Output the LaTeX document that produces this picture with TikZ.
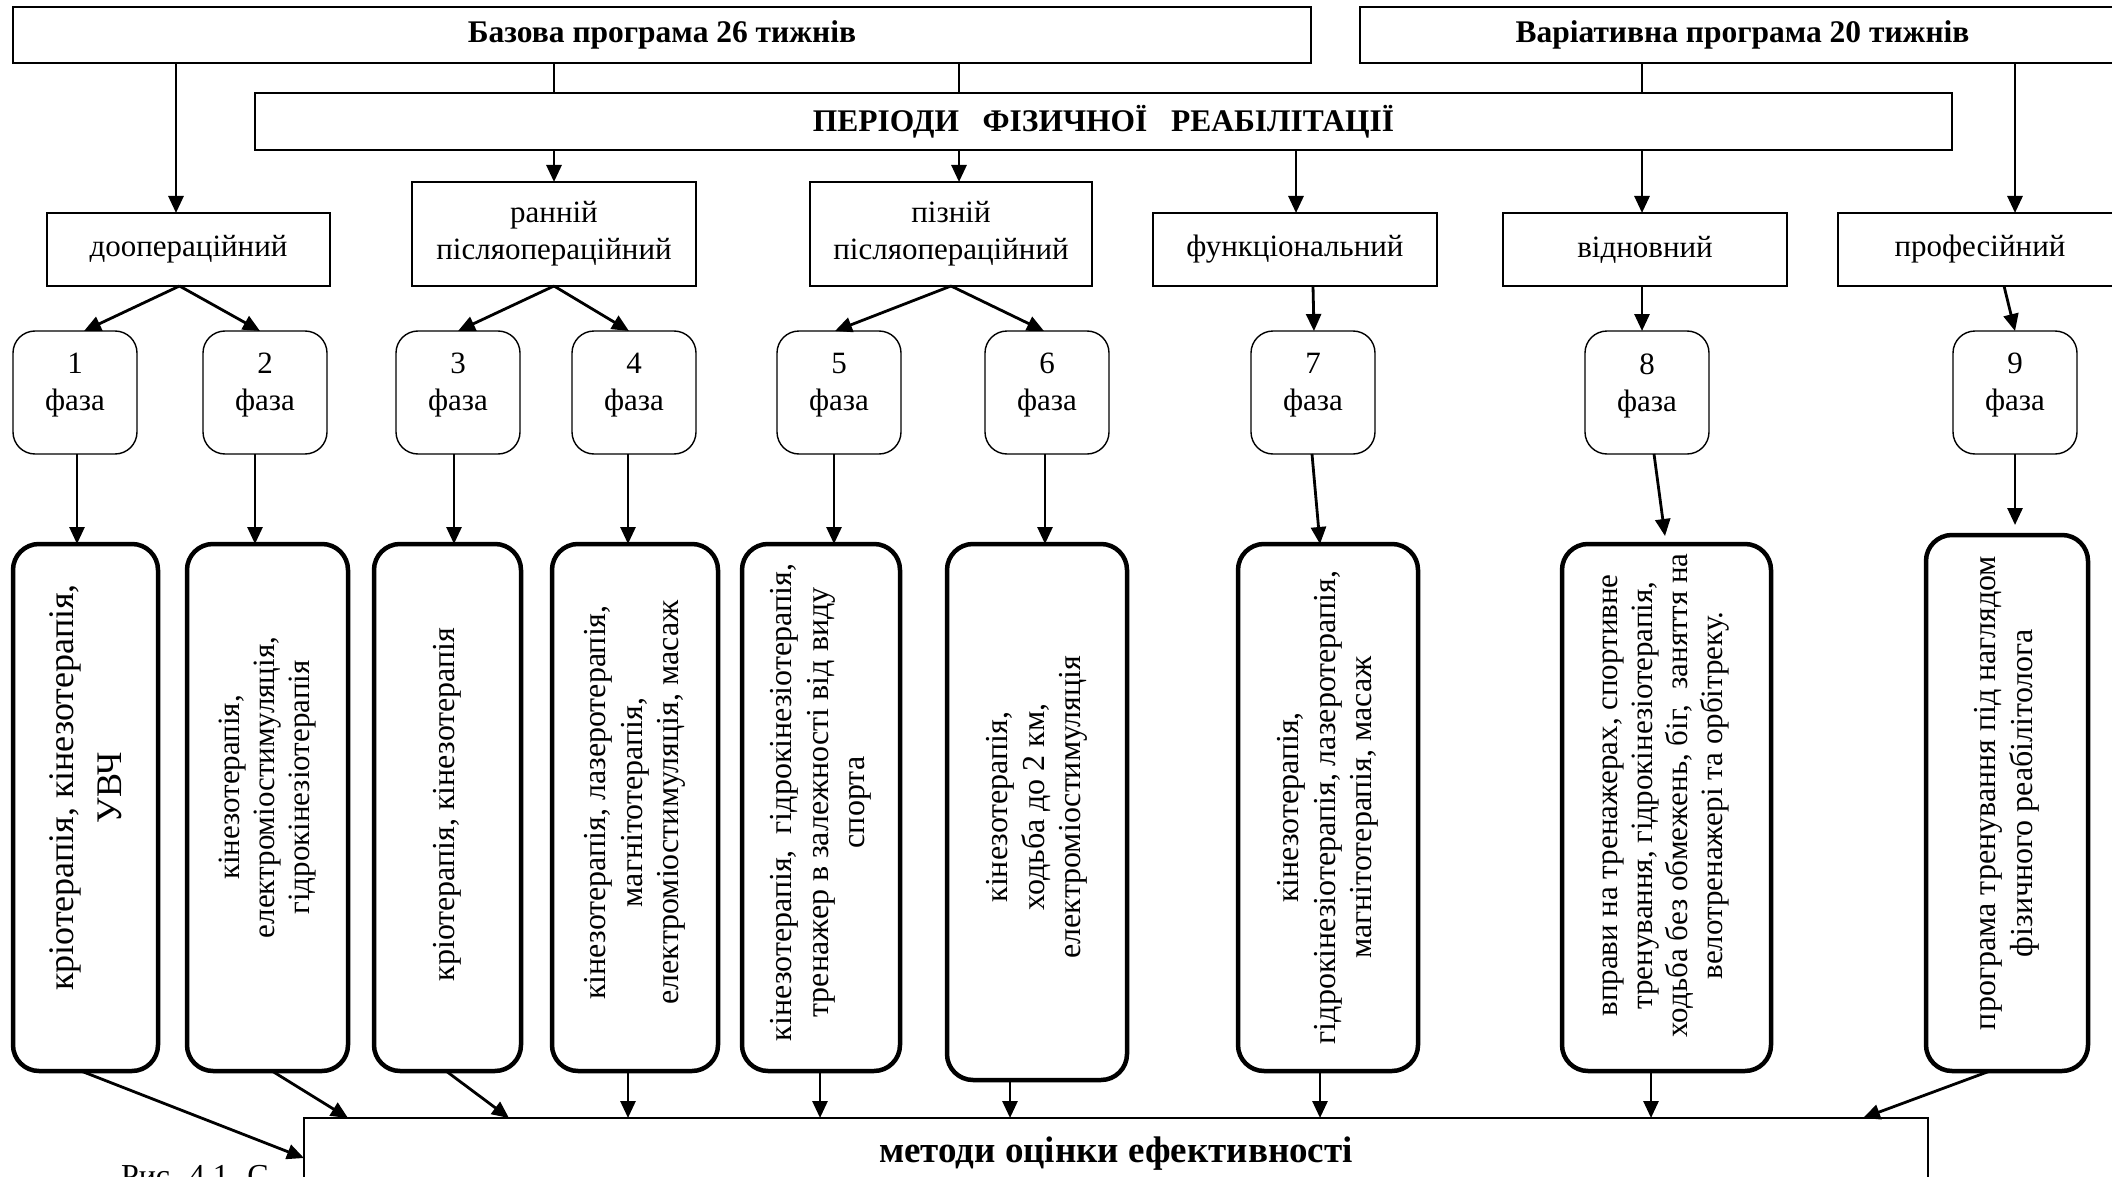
\documentclass[tikz,border=0pt]{standalone}
\usepackage{fontspec}
\setmainfont{Liberation Serif}
\usetikzlibrary{arrows.meta,calc}
\begin{document}
\begin{tikzpicture}[x=1pt,y=-1pt,
  every node/.style={inner sep=0pt, outer sep=0pt},
  hbox/.style={draw, line width=1.6pt, fill=white, align=center, font=\fontsize{31.5}{37}\selectfont\bfseries},
  pbox/.style={draw, line width=1.6pt, fill=white, align=center, font=\fontsize{31}{37}\selectfont},
  phbox/.style={draw, line width=1.4pt, rounded corners=22pt, minimum width=124pt, minimum height=123pt},
  phtext/.style={align=center, font=\fontsize{31}{38}\selectfont},
  tbox/.style={draw, line width=4.5pt, rounded corners=26pt},
  vtext/.style={rotate=90, align=center, font=\fontsize{32}{36.5}\selectfont},
  arr/.style={line width=2.8pt, -{Triangle[length=17pt,width=15pt]}},
  thinline/.style={line width=1.4pt}
]
\useasboundingbox (0,0) rectangle (2112,1177);
\fill[white] (0,0) rectangle (2112,1177);

% header boxes
\node[hbox, minimum width=1298pt, minimum height=56pt] (base) at (662,35) {Базова програма 26 тижнів};
\node[hbox, minimum width=765pt, minimum height=56pt] (var) at (1742.5,35) {Варіативна програма 20 тижнів};
\node[hbox, minimum width=1697pt, minimum height=57pt] (per) at (1103.5,121.5) {ПЕРІОДИ\ \ \ ФІЗИЧНОЇ\ \ \ РЕАБІЛІТАЦІЇ};

% period boxes
\node[pbox, minimum width=283pt, minimum height=73pt] (doop) at (188.5,249.5) {доопераційний};
\node[pbox, minimum width=284pt, minimum height=104pt] (early) at (554,234) {ранній\\післяопераційний};
\node[pbox, minimum width=282pt, minimum height=104pt] (late) at (951,234) {пізній\\післяопераційний};
\node[pbox, minimum width=284pt, minimum height=73pt] (func) at (1295,249.5) {функціональний};
\node[pbox, minimum width=284pt, minimum height=73pt] (rest) at (1645,249.5) {відновний};
\node[pbox, minimum width=284pt, minimum height=73pt] (prof) at (1980,249.5) {професійний};

% phase boxes
\foreach \i/\x in {1/75,2/265,3/458,4/634,5/839,6/1047,7/1313,8/1647,9/2015}{
  \node[phbox] (ph\i) at (\x,392.5) {};
  \node[phtext] (pt\i) at ($(ph\i.center)+(0,-7)$) {\i\\[-1pt]фаза};
}

% tall boxes
\node[tbox, minimum width=145pt, minimum height=527pt] (t1) at (85.5,807.5) {};
\node[tbox, minimum width=161pt, minimum height=527pt] (t2) at (267.5,807.5) {};
\node[tbox, minimum width=147pt, minimum height=527pt] (t3) at (447.5,807.5) {};
\node[tbox, minimum width=166pt, minimum height=527pt] (t4) at (635,807.5) {};
\node[tbox, minimum width=158pt, minimum height=527pt] (t5) at (821,807.5) {};
\node[tbox, minimum width=180pt, minimum height=536pt] (t6) at (1037,812) {};
\node[tbox, minimum width=180pt, minimum height=527pt] (t7) at (1328,807.5) {};
\node[tbox, minimum width=209pt, minimum height=527pt] (t8) at (1666.5,807.5) {};
\node[tbox, minimum width=162pt, minimum height=536pt] (t9) at (2007,803) {};

\node[vtext, font=\fontsize{36}{48}\selectfont] (x1) at ($(t1.center)+(0,-20)$) {кріотерапія,\ кінезотерапія,\\УВЧ};
\node[vtext, font=\fontsize{31}{35}\selectfont] (x2) at ($(t2.center)+(0,-20)$) {кінезотерапія,\\електроміостимуляція,\\гідрокінезіотерапія};
\node[vtext] (x3) at ($(t3.center)+(0,-3)$) {кріотерапія,\ кінезотерапія};
\node[vtext] (x4) at ($(t4.center)+(0,-5)$) {кінезотерапія, лазеротерапія,\\магнітотерапія,\\електроміостимуляція, масаж};
\node[vtext] (x5) at ($(t5.center)+(0,-5)$) {кінезотерапія,\ \ гідрокінезіотерапія,\\тренажер в залежності від виду\\спорта};
\node[vtext] (x6) at ($(t6.center)+(0,-5)$) {кінезотерапія,\\ходьба до 2 км,\\електроміостимуляція};
\node[vtext] (x7) at (t7.center) {кінезотерапія,\\гідрокінезіотерапія, лазеротерапія,\\магнітотерапія, масаж};
\node[vtext, font=\fontsize{31}{35}\selectfont] (x8) at ($(t8.center)+(0,-12)$) {вправи на тренажерах, спортивне\\тренування, гідрокінезіотерапія,\\ходьба без обмежень, біг,\ \ заняття на\\велотренажері та орбітреку.};
\node[vtext] (x9) at ($(t9.center)+(0,-10)$) {програма тренування під наглядом\\фізичного реабілітолога};

% caption (partly hidden)
\node[anchor=base west, font=\fontsize{32}{38}\selectfont] (cap) at (121,1186) {Рис. 4.1. С};

% bottom box
\node[hbox, minimum width=1624pt, minimum height=72pt, font=\fontsize{37}{42}\selectfont\bfseries] (eval) at (1116,1154) {методи оцінки ефективності};

% x coordinates
\coordinate (xa) at (176,0);
\coordinate (xb) at (554,0);
\coordinate (xc) at (959,0);
\coordinate (xd) at (1296,0);
\coordinate (xe) at (1642,0);
\coordinate (xf) at (2015,0);

% header connectors
\draw[arr] (base.south -| xa) -- (doop.north -| xa);
\draw[thinline] (base.south -| xb) -- (per.north -| xb);
\draw[thinline] (base.south -| xc) -- (per.north -| xc);
\draw[thinline] (var.south -| xe) -- (per.north -| xe);
\draw[arr] (var.south -| xf) -- (prof.north -| xf);
\draw[arr] (per.south -| xb) -- (early.north -| xb);
\draw[arr] (per.south -| xc) -- (late.north -| xc);
\draw[arr] (per.south -| xd) -- (func.north -| xd);
\draw[arr] (per.south -| xe) -- (rest.north -| xe);

% period -> phases
\draw[arr] ($(doop.south)+(-9,0)$) -- ($(ph1.north)+(9,0)$);
\draw[arr] ($(doop.south)+(-9,0)$) -- ($(ph2.north)+(-5,0)$);
\draw[arr] (early.south) -- (ph3.north);
\draw[arr] (early.south) -- ($(ph4.north)+(-5,0)$);
\draw[arr] (late.south) -- ($(ph5.north)+(-4,0)$);
\draw[arr] (late.south) -- ($(ph6.north)+(-3,0)$);
\draw[arr] ($(func.south)+(18,0)$) -- ($(ph7.north)+(1,0)$);
\draw[arr] ($(rest.south)+(-3,0)$) -- ($(ph8.north)+(-5,0)$);
\draw[arr] ($(prof.south)+(24,0)$) -- (ph9.north);

% phases -> tall boxes
\draw[arr] ($(ph1.south)+(2,0)$) -- ($(t1.north)+(-8.5,0)$);
\draw[arr] ($(ph2.south)+(-10,0)$) -- ($(t2.north)+(-12.5,0)$);
\draw[arr] ($(ph3.south)+(-4,0)$) -- ($(t3.north)+(6.5,0)$);
\draw[arr] ($(ph4.south)+(-6,0)$) -- ($(t4.north)+(-7,0)$);
\draw[arr] ($(ph5.south)+(-5,0)$) -- ($(t5.north)+(13,0)$);
\draw[arr] ($(ph6.south)+(-2,0)$) -- ($(t6.north)+(8,0)$);
\draw[arr] ($(ph7.south)+(-1,0)$) -- ($(t7.north)+(-8,0)$);
\draw[arr] ($(ph8.south)+(7,0)$) -- ($(t8.north)+(-1.5,-8)$);
\draw[arr] (ph9.south) -- ($(t9.north)+(8,-10)$);

% tall boxes -> evaluation
\draw[arr] ($(t1.south)+(-4.5,0)$) -- ($(eval.west)+(0,4)$);
\draw[arr] ($(t2.south)+(4.5,0)$) -- ($(eval.north west)+(44,0)$);
\draw[arr] ($(t3.south)+(-1.5,0)$) -- ($(eval.north west)+(205,0)$);
\draw[arr] ($(t4.south)+(-7,0)$) -- (eval.north -| {$(t4.south)+(-7,0)$});
\draw[arr] ($(t5.south)+(-1,0)$) -- (eval.north -| {$(t5.south)+(-1,0)$});
\draw[arr] ($(t6.south)+(-27,0)$) -- (eval.north -| {$(t6.south)+(-27,0)$});
\draw[arr] ($(t7.south)+(-8,0)$) -- (eval.north -| {$(t7.south)+(-8,0)$});
\draw[arr] ($(t8.south)+(-15.5,0)$) -- (eval.north -| {$(t8.south)+(-15.5,0)$});
\draw[arr] ($(t9.south)+(-17,0)$) -- ($(eval.north east)+(-65,0)$);
\end{tikzpicture}
\end{document}
